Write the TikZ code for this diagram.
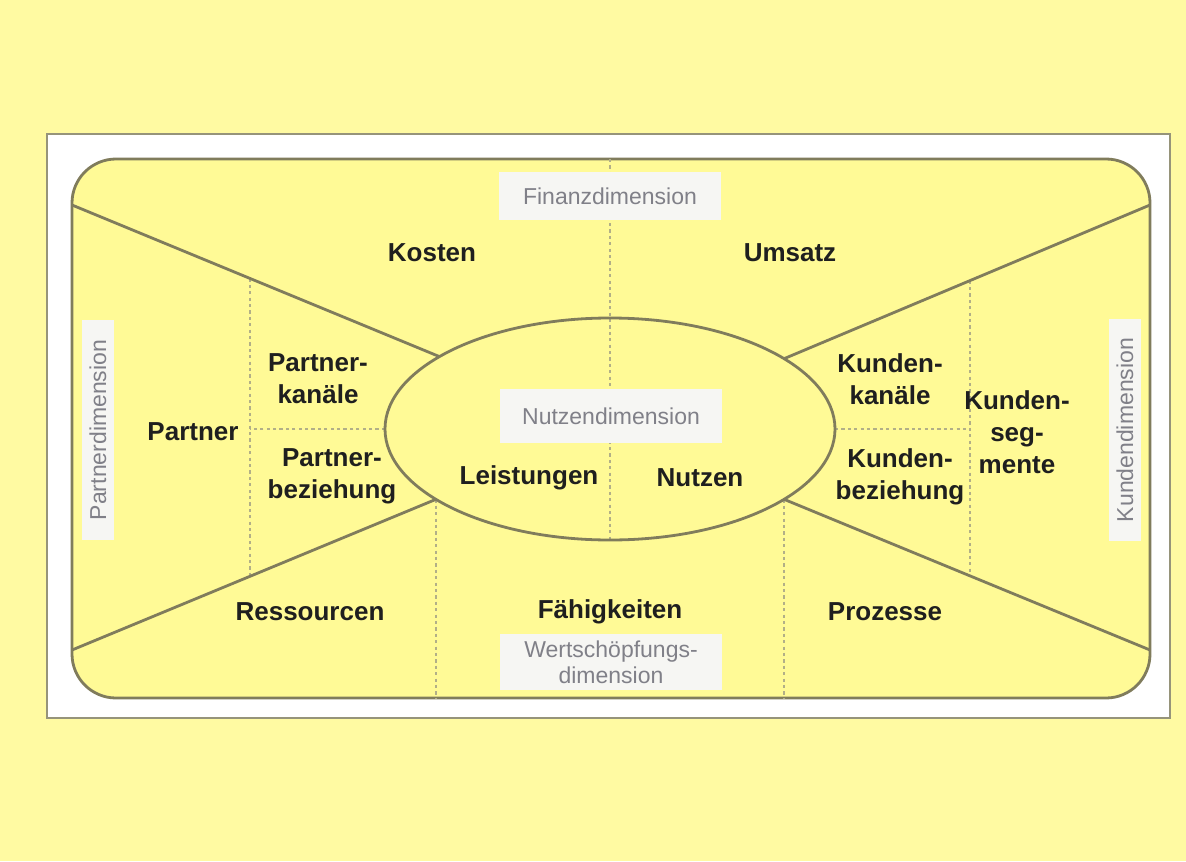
\documentclass[tikz,border=0pt]{standalone}
\usepackage{fontspec}
\setmainfont{Liberation Sans}
\usetikzlibrary{calc,shapes.geometric}
\definecolor{bgyellow}{RGB}{255,250,162}
\definecolor{fieldyellow}{RGB}{255,250,150}
\definecolor{lineolive}{RGB}{128,124,92}
\definecolor{framegray}{RGB}{150,148,122}
\definecolor{tagwhite}{RGB}{246,246,243}
\definecolor{taggray}{RGB}{128,128,136}
\definecolor{dashgray}{RGB}{178,175,135}
\tikzset{
  field/.style={font=\fontsize{13}{16}\selectfont\bfseries, text=black!88, align=center, inner sep=0pt},
  dimtag/.style={fill=tagwhite, text=taggray, font=\fontsize{11.5}{13}\selectfont, align=center, inner sep=0pt},
  divider/.style={draw=lineolive, line width=1.4pt},
  guide/.style={draw=dashgray, line width=0.7pt, dash pattern=on 1.6pt off 1.6pt}
}

\begin{document}
\begin{tikzpicture}[x=0.5pt,y=-0.5pt]
		%%%%% START %%%%%
		\useasboundingbox (0,0) rectangle (1186,861);
		\fill[bgyellow] (0,0) rectangle (1186,861);
		
		\draw[fill=white, draw=framegray, line width=1.2pt] (47,134) rectangle (1170,718);
		\node[draw=lineolive, fill=fieldyellow, line width=1.4pt, rounded corners=22pt,
		      minimum width=539pt, minimum height=269.5pt, inner sep=0pt, outer sep=0pt] (board) at (611,428.5) {};
		
		\node[ellipse, minimum width=225pt, minimum height=111pt, inner sep=0pt, outer sep=0pt] (core) at (610,429) {};
		\coordinate (kl) at (core.157.4);
		\coordinate (kr) at (core.22.6);
		\coordinate (kbl) at (core.202.9);
		\coordinate (kbr) at (core.-22.3);
		\coordinate (tl) at (72,205);
		\coordinate (tr) at (1150,205);
		\coordinate (bl) at (72,650);
		\coordinate (br) at (1150,650);
		\coordinate (gl) at (250,0);
		\coordinate (glb) at (250,861);
		\coordinate (gr) at (970,0);
		\coordinate (grb) at (970,861);
		
		% dotted guides
		\draw[guide] (core.north |- board.north) -- (core.south);
		\draw[guide] (intersection of tl--kl and gl--glb) -- (intersection of bl--kbl and gl--glb);
		\draw[guide] (intersection of tr--kr and gr--grb) -- (intersection of br--kbr and gr--grb);
		\draw[guide] (core.west) -- (core.west -| gl);
		\draw[guide] (core.east) -- (core.east -| gr);
		\draw[guide] (kbl) -- (kbl |- board.south);
		\draw[guide] (kbr) -- (kbr |- board.south);
		
		% solid dividers
		\draw[divider] (tl) -- (kl);
		\draw[divider] (tr) -- (kr);
		\draw[divider] (bl) -- (kbl);
		\draw[divider] (br) -- (kbr);
		\draw[divider] (core.center) ellipse [x radius=225, y radius=111];
		
		% dimension tags
		\node[dimtag, minimum width=111pt, minimum height=24pt] (fin) at (610,196) {Finanzdimension};
		\node[dimtag, minimum width=111pt, minimum height=27pt] (nutz) at (611,416) {Nutzendimension};
		\node[dimtag, minimum width=111pt, minimum height=28pt] (wert) at (611,662) {Wertsch\"opfungs-\\dimension};
		\node[dimtag, rotate=90, minimum width=110pt, minimum height=16pt] (part) at (98,430) {Partnerdimension};
		\node[dimtag, rotate=90, minimum width=111pt, minimum height=16pt] (kund) at (1125,430) {Kundendimension};
		
		% fields
		\node[field] (kosten) at (432,253) {Kosten};
		\node[field] (umsatz) at (790,253) {Umsatz};
		\node[field] (pkan) at (318,379) {Partner-\\kan\"ale};
		\node[field] (partner) at (193,432) {Partner};
		\node[field] (pbez) at (332,476) {Partner-\\beziehung};
		\node[field] (leist) at (529,478) {Leistungen};
		\node[field] (nutzen) at (700,478) {Nutzen};
		\node[field] (kkan) at (890,379) {Kunden-\\kan\"ale};
		\node[field] (kseg) at (1017,432) {Kunden-\\seg-\\mente};
		\node[field] (kbez) at (900,477) {Kunden-\\beziehung};
		\node[field] (ress) at (310,612) {Ressourcen};
		\node[field] (faeh) at (610,612) {F\"ahigkeiten};
		\node[field] (proz) at (885,612) {Prozesse};
		
		%%%%% END %%%%%
\end{tikzpicture}
\end{document}
